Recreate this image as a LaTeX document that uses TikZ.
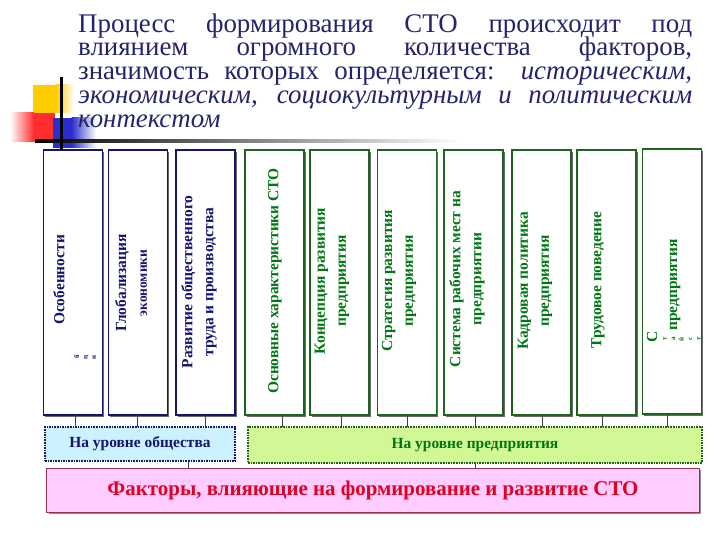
\documentclass[tikz,border=0pt]{standalone}
\usepackage{fontspec}
\setmainfont{Liberation Serif}
\usetikzlibrary{shadows}
\definecolor{titlecol}{RGB}{36,36,108}
\definecolor{navy}{RGB}{20,20,110}
\definecolor{dgreen}{RGB}{30,100,30}
\definecolor{tgreen}{RGB}{0,118,20}
\definecolor{socfill}{RGB}{205,242,255}
\definecolor{entfill}{RGB}{210,248,150}
\definecolor{pinkfill}{RGB}{255,204,255}
\definecolor{pinkdraw}{RGB}{150,50,70}
\definecolor{redtext}{RGB}{225,0,35}
\definecolor{decoyellow}{RGB}{255,204,0}
\definecolor{decored}{RGB}{255,45,45}
\definecolor{decoblue}{RGB}{45,45,205}
\begin{document}
\begin{tikzpicture}[x=1bp,y=-1bp,
  factbox/.style={draw, fill=white, line width=1.2bp, minimum width=59bp, minimum height=265bp, inner sep=0pt, outer sep=0pt,
    drop shadow={shadow xshift=1.8bp, shadow yshift=-1.8bp, fill=black!65, opacity=0.9}},
  blubox/.style={factbox, draw=navy},
  grnbox/.style={factbox, draw=dgreen},
  btext/.style={rotate=90, inner sep=0pt, align=center, font=\bfseries\fontsize{15.5}{21}\selectfont},
  blutext/.style={btext, text=navy},
  grntext/.style={btext, text=tgreen},
  tinytext/.style={font=\bfseries\fontsize{7}{8.5}\selectfont},
  titleline/.style={anchor=base west, inner sep=0pt, text height=17bp, text depth=5bp, text=titlecol, font=\fontsize{27}{24}\selectfont},
  lvlbox/.style={line width=1.8bp, dash pattern=on 1.6bp off 1bp, inner sep=0pt, outer sep=0pt},
  tick/.style={draw=black!75, line width=0.8bp}
]
\useasboundingbox (0,0) rectangle (720,540);
% decoration
\fill[decoyellow] (33,85) rectangle (56,113);
\shade[left color=decoyellow, right color=white] (55.5,85) rectangle (74,113);
\shade[left color=white, right color=decored] (10,113) rectangle (34,142);
\fill[decored] (33.5,113) rectangle (55,142);
\fill[decoblue] (53,118) rectangle (72,148);
\shade[left color=decoblue, right color=white] (71.5,118) rectangle (96,148);
\shade[left color=black, right color=white] (35,139.5) rectangle (460,142.5);
\fill[black] (59.5,77) rectangle (62.5,150);
% title
\node[titleline] (t1) at (78,33) {\makebox[614bp][s]{Процесс формирования СТО происходит под}};
\node[titleline] (t2) at (78,56) {\makebox[614bp][s]{влиянием огромного количества факторов,}};
\node[titleline] (t3) at (78,80) {\makebox[614bp][s]{значимость которых определяется: \textit{историческим,}}};
\node[titleline] (t4) at (78,104) {\makebox[614bp][s]{\itshape экономическим, социокультурным и политическим}};
\node[titleline] (t5) at (78,128) {\textit{контекстом}};
% factor boxes
\node[blubox] (b1) at (73,282.5) {};
\node[blubox] (b2) at (138,282.5) {};
\node[blubox] (b3) at (205.5,282.5) {};
\node[grnbox] (b4) at (274.5,282.5) {};
\node[grnbox] (b5) at (339.5,282.5) {};
\node[grnbox] (b6) at (407,282.5) {};
\node[grnbox] (b7) at (473.5,282.5) {};
\node[grnbox] (b8) at (541.5,282.5) {};
\node[grnbox] (b9) at (606.5,282.5) {};
\node[grnbox] (b10) at (672,281.5) {};
% box labels
\node[blutext] (l1) at (59,280) {Особенности};
\node[blutext, tinytext] (l1x) at (85,357) {б\\ц\\н};
\node[blutext] (l2) at (131,283) {Глобализация\\{\fontsize{13.5}{21}\selectfont экономики}};
\node[blutext] (l3) at (199,282) {Развитие общественного\\труда и производства};
\node[grntext] (l4) at (275,281) {Основные характеристики СТО};
\node[grntext] (l5) at (332,281) {Концепция развития\\предприятия};
\node[grntext] (l6) at (399,281) {Стратегия развития\\предприятия};
\node[grntext] (l7) at (467,279) {Система рабочих мест на\\предприятии};
\node[grntext] (l8) at (535,281) {Кадровая политика\\предприятия};
\node[grntext] (l9) at (598,280) {Трудовое поведение};
\node[grntext] (l10) at (675,285) {предприятия};
\node[grntext] (l10a) at (652,337) {С};
\node[grntext, tinytext] (l10b) at (682,339) {т\\а\\й\\с\\т};
% level boxes
\node[lvlbox, draw=navy, fill=socfill, minimum width=190bp, minimum height=34bp,
  text=navy, font=\bfseries\fontsize{15.5}{18}\selectfont] (soc) at (140,444) {На уровне общества};
\node[lvlbox, draw=dgreen, fill=entfill, minimum width=454bp, minimum height=36bp,
  text=tgreen, font=\bfseries\fontsize{15.5}{18}\selectfont] (ent) at (475,445) {На уровне предприятия};
\node[draw=pinkdraw, fill=pinkfill, line width=1bp, minimum width=652bp, minimum height=44bp, inner sep=0pt,
  drop shadow={shadow xshift=1.8bp, shadow yshift=-1.8bp, fill=black!55, opacity=0.8},
  text=redtext, font=\bfseries\fontsize{21}{26}\selectfont] (pink) at (373,490) {Факторы, влияющие на формирование и развитие СТО};
% connectors
\foreach \b/\dx in {b1/2,b2/-1,b3/0}
  \draw[tick] ([xshift=\dx bp]\b.south) -- ([xshift=\dx bp]\b.south |- soc.north);
\foreach \b/\dx in {b4/8,b5/2,b6/0,b7/2,b8/1,b9/-4,b10/-5}
  \draw[tick] ([xshift=\dx bp]\b.south) -- ([xshift=\dx bp]\b.south |- ent.north);
\draw[tick] ([xshift=48bp]soc.south) -- ([xshift=48bp]soc.south |- pink.north);
\draw[tick] (ent.south) -- (ent.south |- pink.north);
\end{tikzpicture}
\end{document}
